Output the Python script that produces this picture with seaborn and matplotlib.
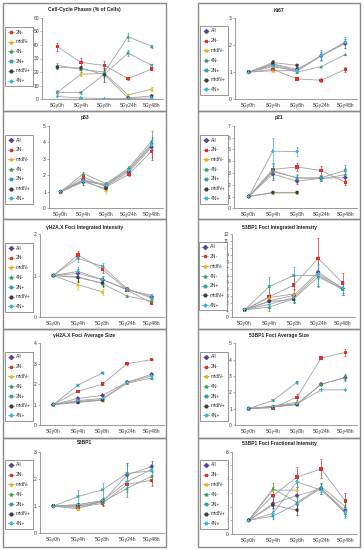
import numpy as np
import pandas as pd
import matplotlib
matplotlib.use("Agg")
import matplotlib.pyplot as plt
import seaborn as sns
from matplotlib.lines import Line2D
from matplotlib.patches import Rectangle

nan = np.nan

# ---------------- data ----------------
CATEGORIES = ["5Gy0h", "5Gy4h", "5Gy8h", "5Gy24h", "5Gy48h"]
SERIES = ["All", "2N-", "midN-", "4N-", "2N+", "midN+", "4N+"]

CELL_CYCLE = {
    "2N-": [38.7, 27.2, 24.8, 15.2, 22.3],
    "midN-": [5.0, 18.5, 19.0, 3.2, 7.5],
    "4N-": [25.0, 22.0, 20.0, 46.0, 39.0],
    "2N+": [5.0, 5.0, 18.5, 34.0, 25.0],
    "midN+": [23.5, 23.0, 18.0, 1.0, 2.5],
    "4N+": [2.0, 1.0, 0.5, 0.5, 1.0],
}
CELL_CYCLE_ERR = {
    "2N-": [3, 3, 3, 1, 1],
    "midN-": [1, 1.5, 2, 1, 1.5],
    "4N-": [2, 2, 2, 3, 1],
    "2N+": [1.5, 1, 2, 2, 1],
    "midN+": [1.5, 1.5, 5, 0.5, 1],
    "4N+": [0.3, 0.3, 0.3, 0.3, 0.3],
}

KI67 = {
    "All": [1, 1.3, 1.1, 1.6, 2.05],
    "2N-": [1, 1.1, 0.75, 0.7, 1.1],
    "midN-": [1, 1.05, 1.05, nan, nan],
    "4N-": [1, 1.25, 1.0, 1.2, 1.65],
    "2N+": [1, 1.3, 1.05, 1.6, 2.1],
    "midN+": [1, 1.35, 1.25, nan, nan],
    "4N+": [1, 1.2, 1.05, 1.6, 2.1],
}
KI67_ERR = {
    "All": [0, 0.1, 0.1, 0.15, 0.15],
    "2N-": [0, 0.05, 0.03, 0.07, 0.08],
    "midN-": [0, 0.05, 0.05, 0, 0],
    "4N-": [0, 0.05, 0.05, 0.03, 0.03],
    "2N+": [0, 0.1, 0.1, 0.2, 0.2],
    "midN+": [0, 0.08, 0.05, 0, 0],
    "4N+": [0, 0.05, 0.05, 0.1, 0.1],
}

P53 = {
    "All": [1, 1.75, 1.35, 2.2, 3.7],
    "2N-": [1, 1.9, 1.3, 2.05, 3.45],
    "midN-": [1, 1.7, 1.1, nan, nan],
    "4N-": [1, 2.1, 1.5, 2.45, 4.05],
    "2N+": [1, 1.65, 1.45, 2.35, 3.9],
    "midN+": [1, 1.6, 1.2, nan, nan],
    "4N+": [1, 1.65, 1.4, 2.3, 3.8],
}
P53_ERR = {
    "All": [0, 0.15, 0.15, 0.1, 0.6],
    "2N-": [0, 0.15, 0.1, 0.1, 0.5],
    "midN-": [0, 0.1, 0.2, 0, 0],
    "4N-": [0, 0.1, 0.1, 0.1, 0.6],
    "2N+": [0, 0.1, 0.1, 0.1, 0.3],
    "midN+": [0, 0.2, 0.1, 0, 0],
    "4N+": [0, 0.1, 0.1, 0.1, 0.3],
}

P21 = {
    "All": [1, 2.9, 2.3, 2.55, 2.6],
    "2N-": [1, 3.3, 3.5, 3.2, 2.2],
    "midN-": [1, 1.3, 1.3, nan, nan],
    "4N-": [1, 3.1, 2.6, 2.5, 2.85],
    "2N+": [1, 3.2, 2.55, 2.6, 3.2],
    "midN+": [1, 1.35, 1.35, nan, nan],
    "4N+": [1, 4.85, 4.8, nan, nan],
}
P21_ERR = {
    "All": [0, 0.5, 0.2, 0.2, 0.3],
    "2N-": [0, 0.5, 0.3, 0.4, 0.2],
    "midN-": [0, 0.1, 0.1, 0, 0],
    "4N-": [0, 0.5, 0.3, 0.2, 0.6],
    "2N+": [0, 0.6, 0.3, 0.2, 0.5],
    "midN+": [0, 0.1, 0.1, 0, 0],
    "4N+": [0, 1.1, 0.4, 0, 0],
}

H2AX_INT = {
    "All": [1, 1.05, 0.9, 0.67, 0.48],
    "2N-": [1, 1.5, 1.15, 0.65, 0.33],
    "midN-": [1, 0.78, 0.6, nan, nan],
    "4N-": [1, 0.97, 0.8, 0.5, 0.38],
    "2N+": [1, 1.42, 1.22, 0.68, 0.45],
    "midN+": [1, 0.95, 0.82, nan, nan],
    "4N+": [1, 1.1, 0.9, 0.65, 0.52],
}
H2AX_INT_ERR = {s: [0, 0.1, 0.08, 0.02, 0.03] for s in SERIES}

BP1_INT = {
    "All": [1, 2.3, 3.1, 6.5, 4.1],
    "2N-": [1, 2.9, 4.6, 8.5, 4.9],
    "midN-": [1, 2.8, 3.3, nan, nan],
    "4N-": [1, 1.4, 2.6, 5.8, 4.0],
    "2N+": [1, 4.4, 6.0, 6.0, 4.0],
    "midN+": [1, 2.2, 2.5, nan, nan],
    "4N+": [1, 1.8, 2.8, 6.2, 4.2],
}
BP1_INT_ERR = {
    "All": [0, 1.0, 1.0, 2.0, 1.0],
    "2N-": [0, 1.5, 1.3, 3.0, 1.5],
    "midN-": [0, 0.5, 0.5, 0, 0],
    "4N-": [0, 0.5, 0.5, 1.5, 0.8],
    "2N+": [0, 1.4, 1.3, 1.5, 0.8],
    "midN+": [0, 0.5, 0.5, 0, 0],
    "4N+": [0, 0.6, 0.6, 1.5, 0.8],
}

H2AX_SIZE = {
    "All": [1, 1.3, 1.45, 2.1, 2.48],
    "2N-": [1, 1.65, 2.0, 3.0, 3.2],
    "midN-": [1, 1.15, 1.2, nan, nan],
    "4N-": [1, 1.15, 1.25, 2.05, 2.3],
    "2N+": [1, 1.95, 2.55, nan, nan],
    "midN+": [1, 1.1, 1.22, nan, nan],
    "4N+": [1, 1.2, 1.3, 2.08, 2.4],
}
H2AX_SIZE_ERR = {s: [0, 0.04, 0.05, 0.05, 0.04] for s in SERIES}

BP1_SIZE = {
    "All": [1, 1.1, 1.3, 2.5, 2.9],
    "2N-": [1, 1.05, 1.7, 4.1, 4.45],
    "midN-": [1, 1.15, 1.4, nan, nan],
    "4N-": [1, 1.1, 1.25, 2.5, 2.9],
    "2N+": [1, 1.5, 2.6, nan, nan],
    "midN+": [1, 1.12, 1.25, nan, nan],
    "4N+": [1, 1.15, 1.3, 2.15, 2.15],
}
BP1_SIZE_ERR = {
    "All": [0, 0.05, 0.05, 0.05, 0.15],
    "2N-": [0, 0.1, 0.2, 0.05, 0.2],
    "midN-": [0, 0.05, 0.05, 0, 0],
    "4N-": [0, 0.05, 0.05, 0.1, 0.2],
    "2N+": [0, 0.05, 0.1, 0, 0],
    "midN+": [0, 0.05, 0.05, 0, 0],
    "4N+": [0, 0.05, 0.05, 0.05, 0.02],
}

BP1 = {
    "All": [1, 1.0, 1.15, 2.15, 2.45],
    "2N-": [1, 0.95, 1.1, 1.8, 1.95],
    "midN-": [1, 0.9, 1.2, nan, nan],
    "4N-": [1, 1.0, 1.15, 1.65, 2.1],
    "2N+": [1, 1.35, 1.6, 2.2, 2.3],
    "midN+": [1, 1.05, 1.2, nan, nan],
    "4N+": [1, 1.05, 1.2, 1.9, 2.35],
}
BP1_ERR = {
    "All": [0, 0.1, 0.1, 0.45, 0.2],
    "2N-": [0, 0.08, 0.1, 0.3, 0.2],
    "midN-": [0, 0.05, 0.1, 0, 0],
    "4N-": [0, 0.08, 0.1, 0.3, 0.2],
    "2N+": [0, 0.25, 0.25, 0.3, 0.2],
    "midN+": [0, 0.05, 0.1, 0, 0],
    "4N+": [0, 0.08, 0.1, 0.3, 0.2],
}

BP1_FRAC = {
    "All": [1, 2.2, 2.8, 3.3, 1.7],
    "2N-": [1, 2.8, 4.15, 4.75, 2.4],
    "midN-": [1, 3.2, 3.2, nan, nan],
    "4N-": [1, 3.3, 2.3, 3.45, 2.0],
    "2N+": [1, 1.3, 2.2, 3.35, 1.5],
    "midN+": [1, 2.1, 1.75, nan, nan],
    "4N+": [1, 1.5, 3.8, 3.2, 1.6],
}
BP1_FRAC_ERR = {
    "All": [0, 0.5, 0.6, 0.4, 0.4],
    "2N-": [0, 0.6, 0.7, 0.7, 0.6],
    "midN-": [0, 0.3, 0.3, 0, 0],
    "4N-": [0, 0.4, 0.5, 0.3, 0.3],
    "2N+": [0, 0.2, 0.5, 0.3, 0.3],
    "midN+": [0, 0.2, 0.4, 0, 0],
    "4N+": [0, 0.3, 0.6, 0.3, 0.3],
}

# ---------------- style ----------------
COLORS = {
    "All": "#5E3FA3",
    "2N-": "#E0302A",
    "midN-": "#F2B400",
    "4N-": "#2EAA5E",
    "2N+": "#2FA3AE",
    "midN+": "#3C3C3C",
    "4N+": "#38B8EA",
}
MARKERS = {"All": "D", "2N-": "s", "midN-": "^", "4N-": "^",
           "2N+": "X", "midN+": "o", "4N+": "P"}
LINE_GRAY = "#A0A0A0"
AX_GRAY = "#8C8C8C"
TXT = "#333333"

sns.set_theme(style="white")
plt.rcParams['font.family'] = ['Liberation Sans', 'DejaVu Sans']

W, H = 364, 550
fig = plt.figure(figsize=(W / 100, H / 100), dpi=100)

# (title, values, errors, ymax, ystep, frame, axis geometry, legend corner, title y)
PANELS = [
    ("Cell-Cycle Phases (% of Cells)", CELL_CYCLE, CELL_CYCLE_ERR, 60, 10,
     (3, 3, 166, 111), (42.3, 57.3, 151.7, 17.7, 99.3), (5, 27), 10),
    ("Ki67", KI67, KI67_ERR, 3, 1,
     (198, 3, 360, 111), (235.3, 248.7, 345.3, 17.7, 99.3), (200, 26), 10),
    ("p53", P53, P53_ERR, 5, 1,
     (3, 111, 166, 219), (49.3, 53.3, 150.7, 125.7, 208.3), (5, 135), 117.5),
    ("p21", P21, P21_ERR, 7, 1,
     (198, 111, 360, 219), (233.7, 248.7, 345.3, 125.7, 208.3), (200, 135), 117.5),
    ("\u03b3H2A.X Foci Integrated Intensity", H2AX_INT, H2AX_INT_ERR, 2, 1,
     (3, 219, 166, 329), (40, 53.3, 151.7, 234.3, 316.7), (5, 243), 228),
    ("53BP1 Foci Integrated Intensity", BP1_INT, BP1_INT_ERR, 12, 1,
     (198, 219, 360, 329), (232, 244.7, 342.7, 234.3, 316.7), (199, 242), 228),
    ("\u03b3H2A.X Foci Average Size", H2AX_SIZE, H2AX_SIZE_ERR, 4, 1,
     (3, 329, 166, 438), (40, 53.3, 151.7, 343.3, 425), (5, 352), 336),
    ("53BP1 Foci Average Size", BP1_SIZE, BP1_SIZE_ERR, 5, 1,
     (198, 329, 360, 438), (235.3, 248.7, 345.3, 343.3, 425), (200, 352), 336),
    ("53BP1", BP1, BP1_ERR, 3, 1,
     (3, 438, 166, 547), (40, 53.3, 151.7, 451.7, 533.3), (5, 460), 443),
    ("53BP1 Foci Fractional Intensity", BP1_FRAC, BP1_FRAC_ERR, 6, 1,
     (198, 438, 360, 547), (232, 248.7, 345.3, 451.7, 534), (200, 460), 443),
]

FS = 3.6

for title, vals, errs, ymax, ystep, frame, geo, leg, ty in PANELS:
    fx0, fy0, fx1, fy1 = frame
    fig.add_artist(Rectangle((fx0 / W, 1 - fy1 / H), (fx1 - fx0) / W, (fy1 - fy0) / H,
                             transform=fig.transFigure, fill=False,
                             edgecolor="#8A8A8A", lw=1.0))
    ax_l, c0, c4, ytop, ybot = geo
    sp = (c4 - c0) / 4.0
    ax_r = c4 + 0.5 * sp
    ax = fig.add_axes([ax_l / W, 1 - ybot / H, (ax_r - ax_l) / W, (ybot - ytop) / H])
    ax.patch.set_alpha(0)

    names = [s for s in SERIES if s in vals]
    rows = []
    for s in names:
        for i, c in enumerate(CATEGORIES):
            v = vals[s][i]
            if not np.isnan(v):
                rows.append({"pos": i, "cat": c, "value": v, "err": errs[s][i], "series": s})
    df = pd.DataFrame(rows)

    sns.lineplot(data=df, x="pos", y="value", hue="series", hue_order=names,
                 palette={s: LINE_GRAY for s in names}, estimator=None, sort=True,
                 lw=0.6, legend=False, ax=ax, zorder=2)
    for s in names:
        d = df[(df.series == s) & (df.err > 0)]
        if len(d):
            ax.errorbar(d["pos"], d["value"], yerr=d["err"], fmt="none",
                        ecolor=COLORS[s], elinewidth=0.5, capsize=1.0,
                        capthick=0.5, zorder=3)
    sns.scatterplot(data=df, x="pos", y="value", hue="series", hue_order=names,
                    style="series", style_order=names,
                    palette={s: COLORS[s] for s in names},
                    markers={s: MARKERS[s] for s in names},
                    s=6, linewidth=0, legend=False, ax=ax, zorder=4)

    ax.set_xlim(-(c0 - ax_l) / sp, 4 + (ax_r - c4) / sp)
    ax.set_ylim(0, ymax)
    ax.set_xlabel("")
    ax.set_ylabel("")
    ax.set_xticks(range(len(CATEGORIES)))
    ax.set_xticklabels(CATEGORIES)
    ax.set_xticks(np.arange(-0.5, 4.6, 1.0), minor=True)
    yt = np.arange(0, ymax + 0.001, ystep)
    ax.set_yticks(yt)
    ax.set_yticklabels([f"{v:g}" for v in yt])
    ax.tick_params(axis="x", which="major", length=0, pad=3, labelsize=FS, labelcolor=TXT)
    ax.tick_params(axis="x", which="minor", length=1.5, width=0.5, color=AX_GRAY, direction="out")
    ax.tick_params(axis="y", which="major", length=1.2, width=0.5, pad=1.2,
                   labelsize=FS, labelcolor=TXT, color=AX_GRAY, direction="out", left=True)
    for sname in ["top", "right"]:
        ax.spines[sname].set_visible(False)
    for sname in ["left", "bottom"]:
        ax.spines[sname].set_color(AX_GRAY)
        ax.spines[sname].set_linewidth(0.6)

    fig.text((fx0 + fx1) / 2 / W, 1 - ty / H, title, ha="center", va="center",
             fontsize=3.6, fontweight="bold", color="#202020")

    handles = [Line2D([0], [0], color=LINE_GRAY, lw=0.6, marker=MARKERS[s],
                      mfc=COLORS[s], mec=COLORS[s], ms=2.0) for s in names]
    lg = ax.legend(handles, names, loc="upper left",
                   bbox_to_anchor=(leg[0] / W, 1 - leg[1] / H),
                   bbox_transform=fig.transFigure, fontsize=FS, frameon=True,
                   fancybox=False, edgecolor="#7A7A7A", handlelength=1.3,
                   handletextpad=0.4, labelspacing=0.95, borderpad=0.5,
                   borderaxespad=0)
    lg.get_frame().set_linewidth(0.7)
    for t in lg.get_texts():
        t.set_color(TXT)

fig.savefig("out.png", dpi=100)
